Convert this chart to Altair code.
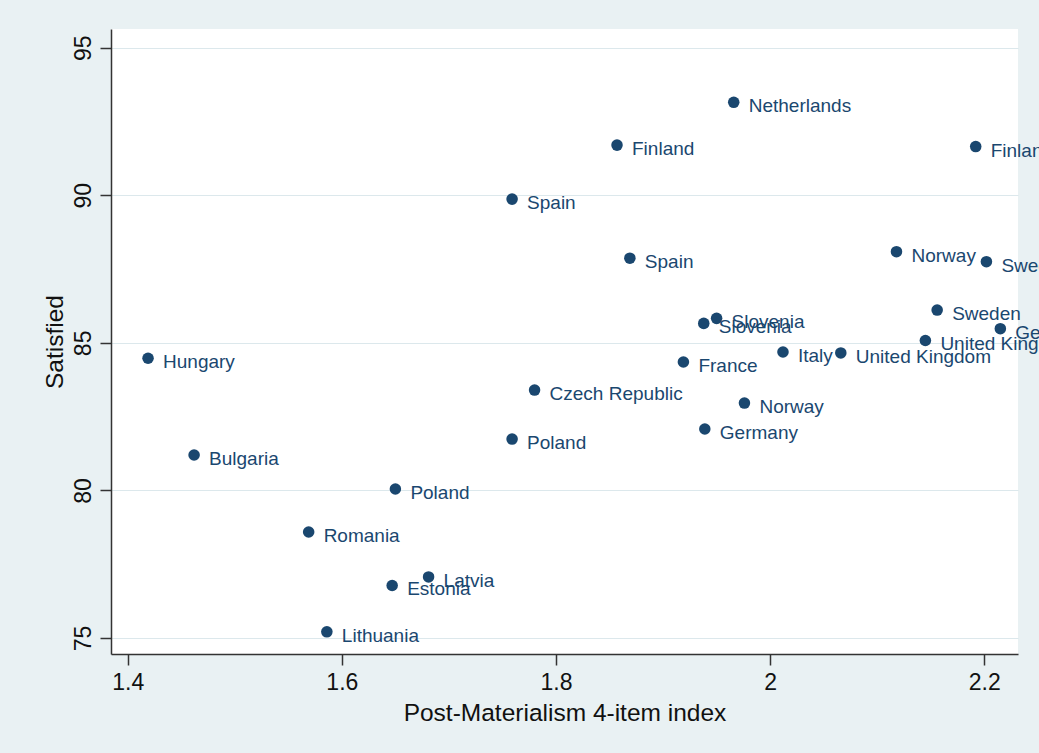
import altair as alt
import pandas as pd

countries = [
    "Hungary", "Bulgaria", "Romania", "Poland", "Estonia", "Latvia", "Lithuania",
    "Spain", "Czech Republic", "Poland", "Finland", "Spain", "France", "Germany",
    "Slovenia", "Slovenia", "Netherlands", "Norway", "Italy", "United Kingdom",
    "Norway", "Sweden", "United Kingdom", "Finland", "Sweden", "Germany",
]
postmat = [
    1.419, 1.462, 1.569, 1.650, 1.647, 1.681, 1.586,
    1.759, 1.780, 1.759, 1.857, 1.869, 1.919, 1.939,
    1.938, 1.950, 1.966, 1.976, 2.012, 2.066,
    2.118, 2.156, 2.145, 2.192, 2.202, 2.215,
]
satisfied = [
    84.48, 81.20, 78.59, 80.05, 76.78, 77.07, 75.21,
    89.87, 83.40, 81.74, 91.70, 87.87, 84.35, 82.08,
    85.66, 85.83, 93.15, 82.96, 84.69, 84.66,
    88.09, 86.11, 85.08, 91.65, 87.75, 85.48,
]

x_ticks = [1.4, 1.6, 1.8, 2.0, 2.2]
y_ticks = [75, 80, 85, 90, 95]

df = pd.DataFrame({"country": countries, "x": postmat, "y": satisfied})

FONT = "Liberation Sans"
NAVY = "#1A476F"

xscale = alt.Scale(domain=[1.3844, 2.2315], nice=False, zero=False)
yscale = alt.Scale(domain=[74.458, 95.634], nice=False, zero=False)

xaxis = alt.Axis(
    title="Post-Materialism 4-item index",
    values=x_ticks, format=".1~f", grid=False,
    domainColor="#333333", domainWidth=1.5,
    tickColor="#333333", tickWidth=1.5, tickSize=11,
    labelFont=FONT, labelFontSize=23, labelColor="#111111",
    labelBaseline="alphabetic", labelPadding=24,
    titleFont=FONT, titleFontSize=24.5, titleFontWeight="normal", titleColor="#111111",
    titleBaseline="alphabetic", titleY=66,
)
yaxis = alt.Axis(
    title="Satisfied",
    values=y_ticks, grid=True, gridColor="#DCE8EC", gridWidth=1.2,
    domainColor="#333333", domainWidth=1.5,
    tickColor="#333333", tickWidth=1.5, tickSize=11,
    labelFont=FONT, labelFontSize=23, labelColor="#111111",
    labelAngle=270, labelAlign="center", labelBaseline="alphabetic", labelPadding=10,
    titleFont=FONT, titleFontSize=24.5, titleFontWeight="normal", titleColor="#111111",
    titleAngle=270, titleBaseline="alphabetic", titleX=-49,
)

base = alt.Chart(df).encode(
    x=alt.X("x:Q", scale=xscale, axis=xaxis),
    y=alt.Y("y:Q", scale=yscale, axis=yaxis),
)

points = base.mark_circle(size=133, color=NAVY, opacity=1)
labels = base.mark_text(
    align="left", baseline="middle", dx=15, dy=4,
    font=FONT, fontSize=19, color=NAVY,
).encode(text="country:N")

chart = (
    alt.layer(points, labels)
    .properties(
        width=907, height=625,
        background="#E9F1F3",
        padding={"left": 111, "top": 29, "right": 21, "bottom": 99},
        autosize=alt.AutoSizeParams(type="none"),
    )
    .configure_view(fill="white", stroke=None)
)

chart.save("out.html", embed_options={"renderer": "svg", "actions": False})
